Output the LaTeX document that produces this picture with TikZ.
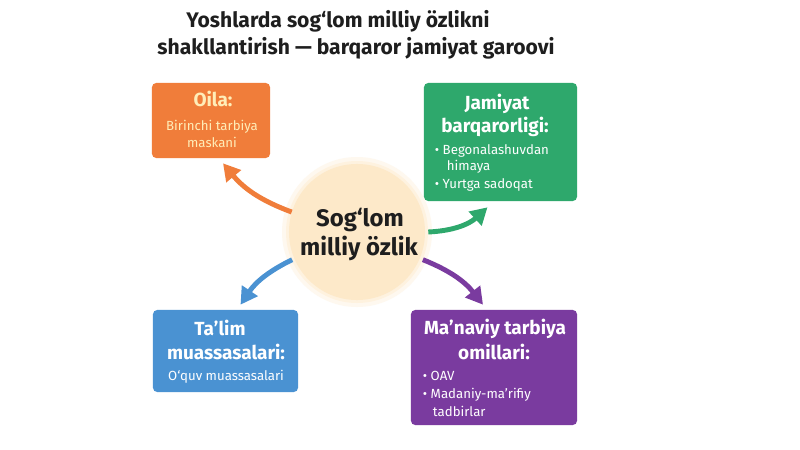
\documentclass[tikz,border=0pt]{standalone}
\usepackage{fontspec}
\setmainfont{Fira Sans}
\usepackage{xcolor}
\usetikzlibrary{arrows.meta, positioning}

\definecolor{oilaOrange}{HTML}{F07D3A}
\definecolor{jamiyatGreen}{HTML}{2EA86C}
\definecolor{talimBlue}{HTML}{4A92D2}
\definecolor{manaviyPurple}{HTML}{7A3B9F}
\definecolor{coreFill}{HTML}{FDE9C9}
\definecolor{oilaText}{HTML}{FFEDB8}
\definecolor{titleInk}{HTML}{1E1E1E}

\begin{document}
\begin{tikzpicture}[
                x=0.025cm, y=0.025cm,
                card/.style={rectangle, rounded corners=3pt, draw=none, inner sep=0pt},
                core/.style={circle, fill=coreFill, minimum size=3.4cm, inner sep=0pt},
                headline/.style={font=\fontsize{15}{18}\selectfont\bfseries, text=titleInk, anchor=base},
                corelabel/.style={font=\fontsize{17}{20}\selectfont\bfseries, text=titleInk, anchor=base},
                cardhead/.style={font=\fontsize{13.5}{16}\selectfont\bfseries, text=white, anchor=base},
                cardtext/.style={font=\fontsize{9.4}{11}\selectfont, text=white, anchor=base},
                carditem/.style={font=\fontsize{9.4}{11}\selectfont, text=white, anchor=base west},
                link/.style={line width=3.5pt, -{Triangle[length=12pt,width=13pt]}}
                ]
                \useasboundingbox (0,0) rectangle (800,449);
                \fill[white] (0,0) rectangle (800,449);

                % Title
                \node[headline] (title1) at (338,421) {Yoshlarda sog‘lom milliy özlikni};
                \node[headline] (title2) at (356,394) {shakllantirish — barqaror jamiyat garoovi};

                % Centre
                \fill[coreFill!30] (357,217) circle (75);
                \fill[coreFill!60] (357,217) circle (71);
                \node[core] (centre) at (357,217) {};
                \node[corelabel] (centre1) at (360,223) {Sog‘lom};
                \node[corelabel] (centre2) at (359,194) {milliy özlik};

                % Cards
                \node[card, fill=oilaOrange, minimum width=2.95cm, minimum height=1.875cm] (oila) at (211,328.5) {};
                \node[card, fill=jamiyatGreen, minimum width=3.825cm, minimum height=2.95cm] (jamiyat) at (500.5,307) {};
                \node[card, fill=talimBlue, minimum width=3.625cm, minimum height=2.05cm] (talim) at (225.5,98) {};
                \node[card, fill=manaviyPurple, minimum width=4.15cm, minimum height=2.875cm] (manaviy) at (494,81.5) {};

                % Card texts
                \node[cardhead, text=oilaText] (oila_head) at (213,343) {Oila:};
                \node[cardtext, text=oilaText] (oila_l1) at (212,319) {Birinchi tarbiya};
                \node[cardtext, text=oilaText] (oila_l2) at (212,302) {maskani};

                \node[cardhead] (jamiyat_h1) at (497,340) {Jamiyat};
                \node[cardhead] (jamiyat_h2) at (495,317) {barqarorligi:};
                \node[carditem] (jamiyat_i1) at (430,295) {• Begonalashuvdan};
                \node[carditem] (jamiyat_i1b) at (442,279) {himaya};
                \node[carditem] (jamiyat_i2) at (430,261) {• Yurtga sadoqat};

                \node[cardhead] (talim_h1) at (220,114) {Ta’lim};
                \node[cardhead] (talim_h2) at (226,90) {muassasalari:};
                \node[cardtext] (talim_l1) at (226,69) {O‘quv muassasalari};

                \node[cardhead] (manaviy_h1) at (495,115) {Ma’naviy tarbiya};
                \node[cardhead] (manaviy_h2) at (494,90) {omillari:};
                \node[carditem] (manaviy_i1) at (418,69) {• OAV};
                \node[carditem] (manaviy_i2) at (418,51) {• Madaniy-ma’rifiy};
                \node[carditem] (manaviy_i2b) at (428,33) {tadbirlar};

                % Arrows
                \draw[link, oilaOrange] (centre.163) to[bend left=15] ([shift={(12,-5)}]oila.south);
                \draw[link, jamiyatGreen] ([shift={(3,0)}]centre.0) to[bend right=20] ([shift={(-13,-6)}]jamiyat.south);
                \draw[link, talimBlue] ([shift={(-2,-1)}]centre.203) to[bend right=15] ([shift={(15,5)}]talim.north);
                \draw[link, manaviyPurple] ([shift={(3,-1)}]centre.337) to[bend left=15] ([shift={(-11,5)}]manaviy.north);

\end{tikzpicture}
\end{document}
